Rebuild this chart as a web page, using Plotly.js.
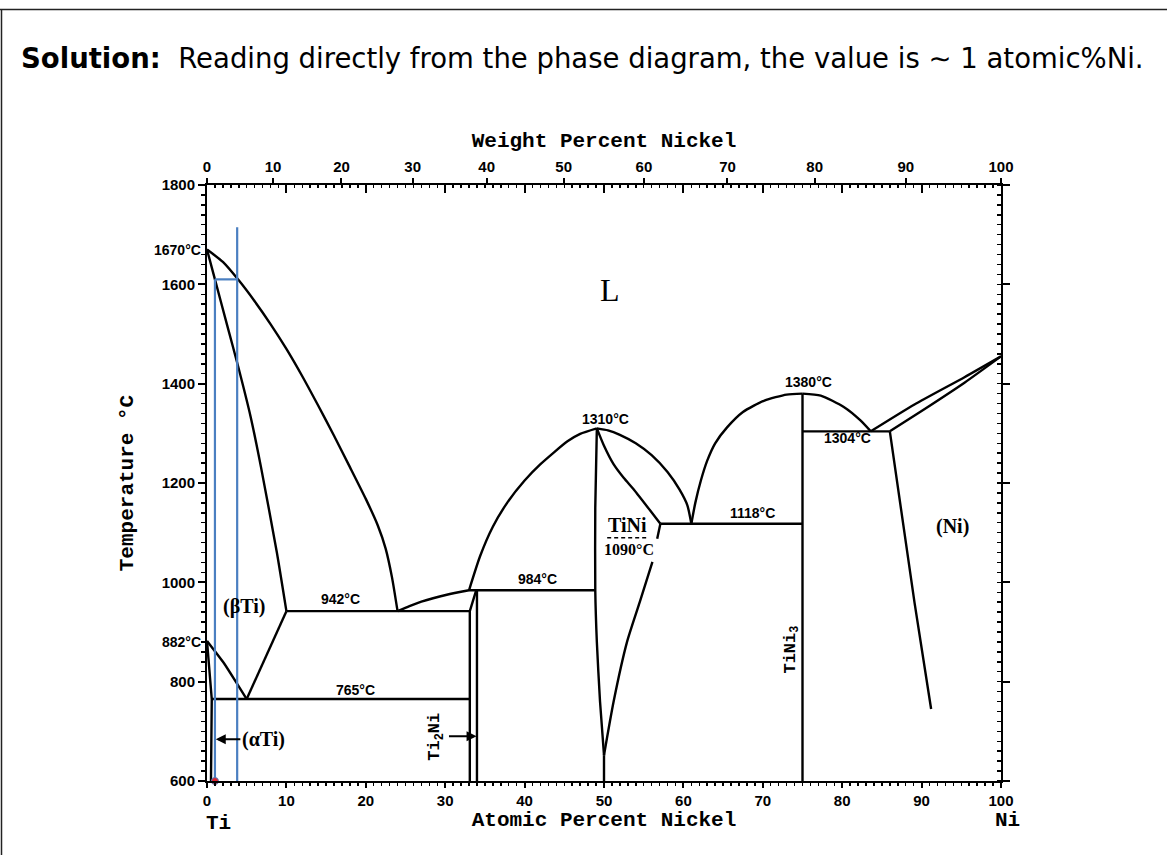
<!DOCTYPE html>
<html><head><meta charset="utf-8">
<script src="https://cdn.plot.ly/plotly-3.0.1.min.js"></script>
<style>html,body{margin:0;padding:0;background:#fff;}#chart{width:1167px;height:855px;}</style>
</head><body><div id="chart"></div>
<script>
// ---------- data (atomic % Ni, temperature °C) ----------
const liqTiX = [0, 2, 4, 6, 8, 10, 12, 14, 16, 18, 20, 21.5, 22.5, 23.3, 24];
const liqTiT = [1670, 1645, 1608, 1566, 1520, 1470, 1415, 1356, 1295, 1232, 1168, 1115, 1068, 1010, 942];
const solBetaX = [0, 1, 2.5, 3.9, 5.5, 6.8, 8.8, 10];
const solBetaT = [1670, 1610, 1520, 1436, 1333, 1232, 1060, 942];
const transusX = [0, 2.1, 3.7, 5];
const transusT = [882, 838, 798, 765];
const betaEutX = [5, 10];
const betaEutT = [765, 942];
const alphaX = [0, 0.6, 0.5];
const alphaT = [882, 765, 600];
const iso942X = [10, 33.1];
const iso942T = [942, 942];
const iso765X = [0.6, 33.1];
const iso765T = [765, 765];
const ti2niLX = [33.1, 33.1, 33.9];
const ti2niLT = [600, 942, 984];
const ti2niRX = [34.0, 34.0];
const ti2niRT = [600, 984];
const liqEutX = [24, 25.5, 27, 30.2, 33];
const liqEutT = [942, 952, 961, 975, 984];
const iso984X = [33, 48.9];
const iso984T = [984, 984];
const liqTiNiLX = [33, 34.4, 36, 37.8, 40, 42, 45.4, 47, 49.1];
const liqTiNiLT = [984, 1053, 1112, 1160, 1205, 1238, 1284, 1299, 1310];
const liqTiNiRX = [49.1, 50.5, 52, 54, 56, 58, 59.5, 60.5, 61];
const liqTiNiRT = [1310, 1306, 1297, 1280, 1256, 1222, 1187, 1155, 1118];
const solTiNiRX = [49.1, 50, 51.2, 52.5, 53.8, 57.1];
const solTiNiRT = [1310, 1275, 1238, 1210, 1186, 1118];
const tiniLeftX = [49.1, 48.9, 48.9, 49.1, 49.5, 50];
const tiniLeftT = [1310, 1150, 984, 880, 760, 652];
const tini50X = [50, 50];
const tini50T = [652, 600];
const tiniRightX = [50, 51.2, 52.9, 54.5, 56.1];
const tiniRightT = [652, 759, 880, 960, 1041];
const tiniRight2X = [56.7, 57.1];
const tiniRight2T = [1088, 1118];
const iso1118X = [57.1, 75];
const iso1118T = [1118, 1118];
const tini3X = [75, 75];
const tini3T = [600, 1380];
const liqTiNi3LX = [61, 61.5, 62.2, 63, 64, 65.5, 67.5, 70.2, 73, 75];
const liqTiNi3LT = [1118, 1160, 1205, 1245, 1280, 1312, 1343, 1366, 1378, 1380];
const liqTiNi3RX = [75, 77.3, 80.2, 82.3, 83.6];
const liqTiNi3RT = [1380, 1376, 1353, 1326, 1304];
const iso1304X = [75, 86];
const iso1304T = [1304, 1304];
const liqNiX = [83.6, 89.1, 95.4, 100];
const liqNiT = [1304, 1358, 1413, 1455];
const solNiX = [86, 90, 95.4, 100];
const solNiT = [1304, 1345, 1402, 1455];
const solvNiX = [86, 88.4, 89.1, 91.2];
const solvNiT = [1304, 1045, 960, 745];
const dashTiNiX = [50.4, 55.6];
const dashTiNiT = [1090, 1090];
// reading construction (blue)
const blueAX = [1, 1];
const blueAT = [600, 1610];
const blueBX = [3.8, 3.8];
const blueBT = [600, 1715];
const blueHX = [1, 3.8];
const blueHT = [1610, 1610];
const redDotX = [1];
const redDotT = [600];
// axes
const atTicks = [0, 10, 20, 30, 40, 50, 60, 70, 80, 90, 100];
const wtLabels = [0, 10, 20, 30, 40, 50, 60, 70, 80, 90, 100];
const tempTicks = [600, 800, 1000, 1200, 1400, 1600, 1800];
// labels
const tempLabelText = ['942°C', '765°C', '984°C', '1310°C', '1118°C', '1380°C', '1304°C'];
const tempLabelX = [16.8, 18.7, 41.6, 50.2, 68.7, 75.8, 80.7];
const tempLabelT = [966, 784, 1007, 1329, 1139, 1403, 1291];

// ---------- helpers ----------
const MW_NI = 58.693, MW_TI = 47.867;
function wtToAt(w){ if (w <= 0) return 0; if (w >= 100) return 100; const n = w / MW_NI, t = (100 - w) / MW_TI; return 100 * n / (n + t); }
const L = 207, R = 1001, T = 185, B = 781;
const px = x => (x - L) / (R - L);
const py = y => (B - y) / (B - T);

const traces = [];
function curve(x, y, smooth){
  traces.push({x: x, y: y, type: 'scatter', mode: 'lines', hoverinfo: 'skip', showlegend: false,
    line: {color: '#000', width: 2.4, shape: smooth ? 'spline' : 'linear', smoothing: 0.6}, cliponaxis: false});
}
curve(liqTiX, liqTiT, true);
curve(solBetaX, solBetaT, true);
curve(transusX, transusT, true);
curve(betaEutX, betaEutT, false);
curve(alphaX, alphaT, false);
curve(iso942X, iso942T, false);
curve(iso765X, iso765T, false);
curve(ti2niLX, ti2niLT, false);
curve(ti2niRX, ti2niRT, false);
curve(liqEutX, liqEutT, true);
curve(iso984X, iso984T, false);
curve(liqTiNiLX, liqTiNiLT, true);
curve(liqTiNiRX, liqTiNiRT, true);
curve(solTiNiRX, solTiNiRT, true);
curve(tiniLeftX, tiniLeftT, true);
curve(tini50X, tini50T, false);
curve(tiniRightX, tiniRightT, true);
curve(tiniRight2X, tiniRight2T, false);
curve(iso1118X, iso1118T, false);
curve(tini3X, tini3T, false);
curve(liqTiNi3LX, liqTiNi3LT, true);
curve(liqTiNi3RX, liqTiNi3RT, true);
curve(iso1304X, iso1304T, false);
curve(liqNiX, liqNiT, true);
curve(solNiX, solNiT, true);
curve(solvNiX, solvNiT, false);
traces.push({x: dashTiNiX, y: dashTiNiT, type: 'scatter', mode: 'lines', hoverinfo: 'skip', showlegend: false,
  line: {color: '#000', width: 1.5, dash: '4px,3px'}});
const blue = '#4a7fc1';
[[blueAX, blueAT], [blueBX, blueBT], [blueHX, blueHT]].forEach(p => traces.push({x: p[0], y: p[1], type: 'scatter', mode: 'lines',
  hoverinfo: 'skip', showlegend: false, cliponaxis: false, line: {color: blue, width: 2.2}}));
traces.push({x: redDotX, y: redDotT, type: 'scatter', mode: 'markers', hoverinfo: 'skip', showlegend: false, cliponaxis: false,
  marker: {color: '#e0202a', size: 7, line: {color: blue, width: 1}}});
// dummy traces to bind overlay axes
traces.push({x: [0], y: [600], xaxis: 'x2', yaxis: 'y', mode: 'markers', marker: {opacity: 0}, hoverinfo: 'skip', showlegend: false});
traces.push({x: [0], y: [600], xaxis: 'x3', yaxis: 'y2', mode: 'markers', marker: {opacity: 0}, hoverinfo: 'skip', showlegend: false});

const tickFont = {family: 'Liberation Sans, Arial, sans-serif', size: 15, color: '#000', weight: 'bold'};
const monoTitle = {family: 'Liberation Mono, Courier New, monospace', size: 21, color: '#000', weight: 'bold'};
const sansLbl = {family: 'Liberation Sans, Arial, sans-serif', size: 14, color: '#000', weight: 'bold'};
const serifLbl = {family: 'Liberation Serif, Times New Roman, serif', size: 20, color: '#000', weight: 'bold'};
const monoLbl = {family: 'Liberation Mono, Courier New, monospace', size: 17, color: '#000', weight: 'bold'};

const ann = [];
tempLabelText.forEach((t, i) => ann.push({x: tempLabelX[i], y: tempLabelT[i], xref: 'x', yref: 'y', text: t, showarrow: false, font: sansLbl}));
ann.push({x: 100.3, y: 1455, xref: 'x', yref: 'y', text: '1455°C', showarrow: false, xanchor: 'left', font: sansLbl});
ann.push({x: px(203), y: 1670, xref: 'paper', yref: 'y', text: '1670°C', showarrow: false, xanchor: 'right', yanchor: 'middle', font: sansLbl});
ann.push({x: px(203), y: 880, xref: 'paper', yref: 'y', text: '882°C', showarrow: false, xanchor: 'right', yanchor: 'middle', font: sansLbl});
ann.push({x: 50.8, y: 1589, xref: 'x', yref: 'y', text: 'L', showarrow: false, font: {family: 'Liberation Serif, serif', size: 32, color: '#000'}});
ann.push({x: 4.6, y: 952, xref: 'x', yref: 'y', text: '(βTi)', showarrow: false, font: serifLbl});
ann.push({x: 93.9, y: 1113, xref: 'x', yref: 'y', text: '(Ni)', showarrow: false, font: serifLbl});
ann.push({x: 52.9, y: 1116, xref: 'x', yref: 'y', text: 'TiNi', showarrow: false, font: serifLbl});
ann.push({x: 53.1, y: 1066, xref: 'x', yref: 'y', text: '1090°C', showarrow: false, font: {family: 'Liberation Serif, serif', size: 16, color: '#000', weight: 'bold'}});
ann.push({x: 1.1, y: 684, xref: 'x', yref: 'y', ax: 7.1, ay: 684, axref: 'x', ayref: 'y', text: '(αTi)', showarrow: true,
  arrowhead: 2, arrowsize: 1, arrowwidth: 2, arrowcolor: '#000', font: serifLbl});
ann.push({x: 33.95, y: 690, xref: 'x', yref: 'y', ax: 28.9, ay: 690, axref: 'x', ayref: 'y', text: 'Ti<sub>2</sub>Ni', textangle: -90, showarrow: true,
  arrowhead: 2, arrowsize: 1, arrowwidth: 2, arrowcolor: '#000', font: monoLbl});
ann.push({x: 73.7, y: 865, xref: 'x', yref: 'y', text: 'TiNi<sub>3</sub>', textangle: -90, showarrow: false, font: monoLbl});
ann.push({x: px(218), y: py(823), xref: 'paper', yref: 'paper', xanchor: 'center', yanchor: 'middle', text: 'Ti', showarrow: false, font: monoTitle});
ann.push({x: px(1007), y: py(821), xref: 'paper', yref: 'paper', xanchor: 'center', yanchor: 'middle', text: 'Ni', showarrow: false, font: monoTitle});
// header text
ann.push({x: px(19), y: py(58), xref: 'paper', yref: 'paper', xanchor: 'left', yanchor: 'middle', showarrow: false,
  text: '<b>Solution:</b>  Reading directly from the phase diagram, the value is ∼ 1 atomic%Ni.',
  font: {family: 'DejaVu Sans, sans-serif', size: 27.5, color: '#000'}});

const shapes = [
  {type: 'line', xref: 'paper', yref: 'paper', x0: px(0), x1: px(1167), y0: py(9.5), y1: py(9.5), line: {color: '#222', width: 1.5}},
  {type: 'line', xref: 'paper', yref: 'paper', x0: px(1.5), x1: px(1.5), y0: py(9.5), y1: py(856), line: {color: '#222', width: 1.5}}
];

const axLine = {showline: true, linecolor: '#000', linewidth: 2, showgrid: false, zeroline: false};
const layout = {
  width: 1167, height: 855, paper_bgcolor: '#fff', plot_bgcolor: '#fff',
  margin: {l: L, r: 1167 - R, t: T, b: 855 - B, pad: 0},
  showlegend: false,
  xaxis: Object.assign({}, axLine, {range: [0, 100], tickmode: 'array', tickvals: atTicks, ticktext: atTicks.map(String),
    ticks: 'outside', ticklen: 5, tickwidth: 2, tickcolor: '#000', tickfont: tickFont,
    minor: {dtick: 1, tick0: 0, ticks: 'outside', ticklen: 3, tickwidth: 1.5, tickcolor: '#000'},
    title: {text: 'Atomic Percent Nickel', font: monoTitle, standoff: 2}}),
  xaxis2: {overlaying: 'x', side: 'top', anchor: 'y', range: [0, 100], tickmode: 'array', tickvals: wtLabels.map(wtToAt), ticktext: wtLabels.map(String),
    ticks: 'outside', ticklen: 6, tickwidth: 2, tickcolor: '#000', tickfont: tickFont, showline: false, showgrid: false, zeroline: false,
    title: {text: 'Weight Percent Nickel', font: monoTitle, standoff: 4}},
  xaxis3: Object.assign({}, axLine, {overlaying: 'x', side: 'top', anchor: 'y2', range: [0, 100], tickmode: 'linear', tick0: 0, dtick: 10,
    ticks: 'inside', ticklen: 8, tickwidth: 2, tickcolor: '#000', showticklabels: false,
    minor: {dtick: 1, tick0: 0, ticks: 'inside', ticklen: 3, tickwidth: 1.5, tickcolor: '#000'}}),
  yaxis: Object.assign({}, axLine, {range: [600, 1800], tickmode: 'array', tickvals: tempTicks, ticktext: tempTicks.map(String),
    ticks: 'outside', ticklen: 7, tickwidth: 2, tickcolor: '#000', tickfont: tickFont,
    minor: {dtick: 20, tick0: 600, ticks: 'outside', ticklen: 4, tickwidth: 1.5, tickcolor: '#000'},
    title: {text: 'Temperature °C', font: monoTitle, standoff: 22}}),
  yaxis2: Object.assign({}, axLine, {overlaying: 'y', side: 'right', anchor: 'x3', range: [600, 1800], tickmode: 'linear', tick0: 600, dtick: 200,
    ticks: 'outside', ticklen: 7, tickwidth: 2, tickcolor: '#000', showticklabels: false,
    minor: {dtick: 20, tick0: 600, ticks: 'inside', ticklen: 4, tickwidth: 1.5, tickcolor: '#000'}}),
  annotations: ann,
  shapes: shapes
};
Plotly.newPlot('chart', traces, layout, {staticPlot: true, displayModeBar: false});
</script></body></html>
